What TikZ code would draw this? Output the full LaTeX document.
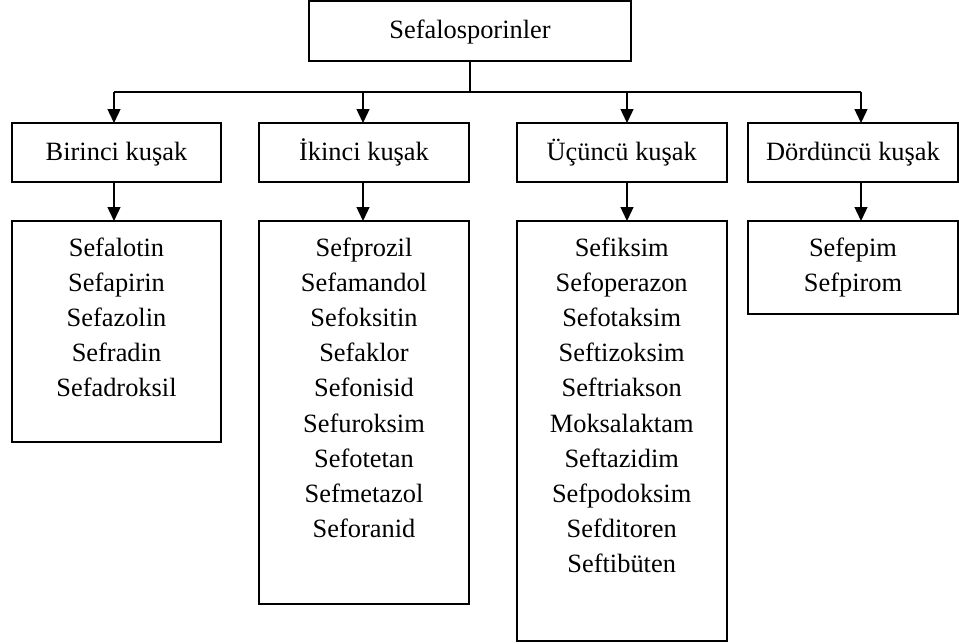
\documentclass[tikz,border=0pt]{standalone}
\usepackage{fontspec}
\setmainfont{Liberation Serif}
\usetikzlibrary{arrows.meta}
\begin{document}
\begin{tikzpicture}[x=1pt,y=-1pt,
  txt/.style={font=\fontsize{26.4}{35.2}\selectfont},
  box/.style={draw, line width=1.8pt, inner sep=0pt, outer sep=0pt, txt, text height=20pt, text depth=5pt, minimum height=59pt},
  listbox/.style={draw, line width=1.8pt, inner sep=0pt, outer sep=0pt, anchor=north west},
  item/.style={txt, anchor=base, inner sep=0pt},
  conn/.style={line width=1.4pt},
  arr/.style={conn, -{Triangle[length=14pt,width=13pt]}}]
\useasboundingbox (0,0) rectangle (959,643);

% top and generation boxes
\node[box, minimum width=322pt, minimum height=60pt] (top) at (470,31) {Sefalosporinler};
\node[box, minimum width=209pt] (g1) at (116.5,152.5) {Birinci kuşak};
\node[box, minimum width=210pt] (g2) at (364,152.5) {İkinci kuşak};
\node[box, minimum width=210pt] (g3) at (621.7,152.5) {Üçüncü kuşak};
\node[box, minimum width=210pt] (g4) at (853,152.5) {Dördüncü kuşak};

% list boxes
\node[listbox, minimum width=209pt, minimum height=220.7pt] (l1) at (12,221) {};
\node[listbox, minimum width=210pt, minimum height=383.3pt] (l2) at (259,221) {};
\node[listbox, minimum width=210pt, minimum height=419.7pt] (l3) at (516.7,221) {};
\node[listbox, minimum width=210pt, minimum height=93.3pt] (l4) at (748,221) {};

% list items
\foreach \t [count=\i from 0] in {Sefalotin,Sefapirin,Sefazolin,Sefradin,Sefadroksil}
  \node[item] (a\i) at (116.5,{256+35.2*\i}) {\t};
\foreach \t [count=\i from 0] in {Sefprozil,Sefamandol,Sefoksitin,Sefaklor,Sefonisid,Sefuroksim,Sefotetan,Sefmetazol,Seforanid}
  \node[item] (b\i) at (364,{256+35.2*\i}) {\t};
\foreach \t [count=\i from 0] in {Sefiksim,Sefoperazon,Sefotaksim,Seftizoksim,Seftriakson,Moksalaktam,Seftazidim,Sefpodoksim,Sefditoren,Seftibüten}
  \node[item] (c\i) at (621.7,{256+35.2*\i}) {\t};
\foreach \t [count=\i from 0] in {Sefepim,Sefpirom}
  \node[item] (d\i) at (853,{256+35.2*\i}) {\t};

% connectors
\coordinate (hm) at (470,92);
\coordinate (h1) at (114,92);
\coordinate (h2) at (363,92);
\coordinate (h3) at (627,92);
\coordinate (h4) at (861,92);
\draw[conn] (top.south) -- (hm);
\draw[conn] (h1) -- (h4);
\draw[arr] (h1) -- (h1 |- g1.north);
\draw[arr] (h2) -- (h2 |- g2.north);
\draw[arr] (h3) -- (h3 |- g3.north);
\draw[arr] (h4) -- (h4 |- g4.north);
\draw[arr] (h1 |- g1.south) -- (h1 |- l1.north);
\draw[arr] (h2 |- g2.south) -- (h2 |- l2.north);
\draw[arr] (h3 |- g3.south) -- (h3 |- l3.north);
\draw[arr] (h4 |- g4.south) -- (h4 |- l4.north);
\end{tikzpicture}
\end{document}
